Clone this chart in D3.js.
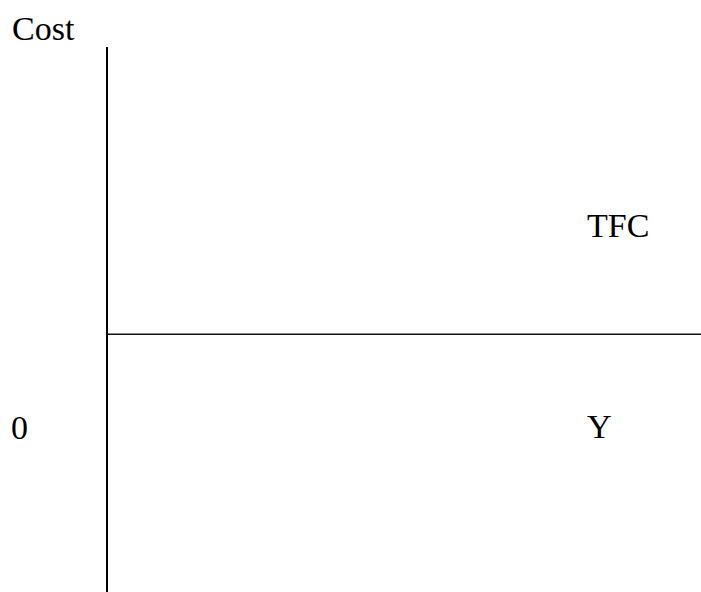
<!DOCTYPE html>
<html><head><meta charset="utf-8">
<script src="https://cdn.jsdelivr.net/npm/d3@7"></script>
<style>html,body{margin:0;padding:0;background:#fff;}svg{display:block;}
text{font-family:"Liberation Serif","Times New Roman",Times,serif;}</style>
</head><body>
<svg id="chart" width="701" height="592"></svg>
<script>
// Data
const xDomain = [0, 100];
const yDomain = [0, 100];
const tfcX = [0, 100];          // TFC line spans the output range
const tfcValue = [47.3, 47.3];  // total fixed cost (constant)
const axisLabels = ["Cost", "Y", "0"];
const seriesLabel = ["TFC"];

const svg = d3.select("#chart");

const x = d3.scaleLinear().domain(xDomain).range([107, 701]);
const y = d3.scaleLinear().domain(yDomain).range([592, 47]);

// vertical (cost) axis
svg.append("line")
  .attr("x1", x(0)).attr("x2", x(0))
  .attr("y1", y(yDomain[0])).attr("y2", y(yDomain[1]))
  .attr("stroke", "#000").attr("stroke-width", 2);

// TFC line
const line = d3.line().x(d => x(d[0])).y(d => y(d[1]));
svg.append("path")
  .attr("d", line(tfcX.map((v, i) => [v, tfcValue[i]])))
  .attr("fill", "none").attr("stroke", "#111").attr("stroke-width", 1.6);

// labels
const fs = 34;
svg.append("text").attr("x", 12).attr("y", 40)
  .attr("font-size", fs).text(axisLabels[0]);
svg.append("text").attr("x", 587).attr("y", 237)
  .attr("font-size", fs).text(seriesLabel[0]);
svg.append("text").attr("x", 587).attr("y", 438)
  .attr("font-size", fs).text(axisLabels[1]);
svg.append("text").attr("x", 11).attr("y", 439)
  .attr("font-size", fs).text(axisLabels[2]);
</script>
</body></html>
